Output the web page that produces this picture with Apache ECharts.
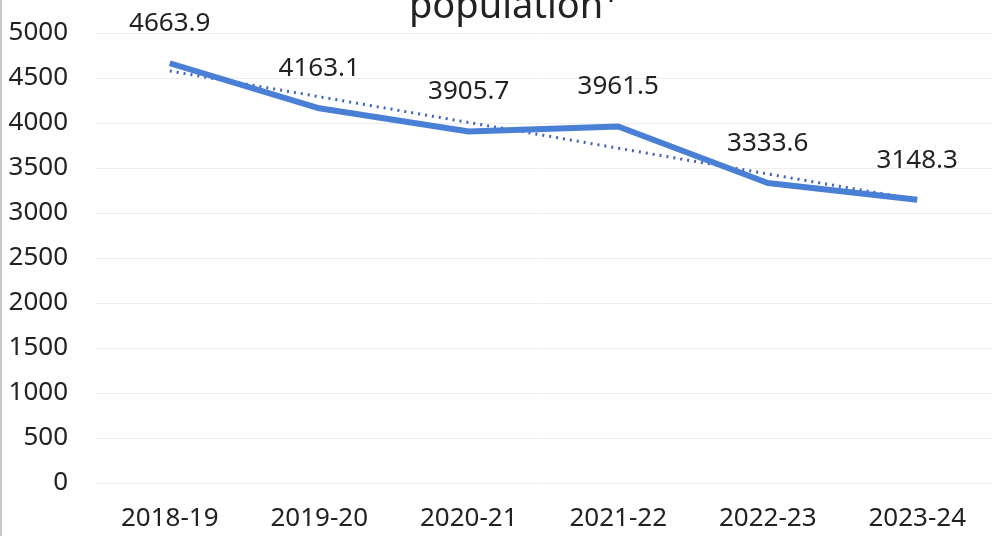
<!DOCTYPE html>
<html>
<head>
<meta charset="utf-8">
<script src="https://cdn.jsdelivr.net/npm/echarts@6/dist/echarts.min.js"></script>
<style>
  html, body { margin: 0; padding: 0; background: #ffffff; }
  #chart { width: 992px; height: 536px; }
</style>
</head>
<body>
<div id="chart"></div>
<script>
// School years on the category axis
const years = ['2018-19', '2019-20', '2020-21', '2021-22', '2022-23', '2023-24'];
// Population per year
const population = [4663.9, 4163.1, 3905.7, 3961.5, 3333.6, 3148.3];
// Linear trend, start and end values
const trendEnds = [4578, 3148];
// Value axis ticks
const yMin = 0, yMax = 5000, yStep = 500;

const trendData = years.map((_, i) =>
  i === 0 ? trendEnds[0] : (i === years.length - 1 ? trendEnds[1] : null));

const font = '"Noto Sans", "Open Sans", sans-serif';
const chart = echarts.init(document.getElementById('chart'));
chart.setOption({
  backgroundColor: '#ffffff',
  animation: false,
  title: {
    text: 'population¹',
    left: 404,
    top: -17,
    textStyle: { fontFamily: font, fontSize: 38, fontWeight: 'normal', color: '#222222' }
  },
  grid: { left: 95, top: 33, width: 905, bottom: 53, containLabel: false },
  xAxis: {
    type: 'category',
    data: years,
    boundaryGap: true,
    axisLine: { show: false },
    axisTick: { show: false },
    axisLabel: { fontFamily: font, fontSize: 26, color: '#222222', margin: 23 }
  },
  yAxis: {
    type: 'value',
    min: yMin,
    max: yMax,
    interval: yStep,
    axisLine: { show: false },
    axisTick: { show: false },
    splitLine: { lineStyle: { color: '#eeeeee', width: 1 } },
    axisLabel: {
      fontFamily: font, fontSize: 26, color: '#222222', margin: 27,
      formatter: v => String(v)
    }
  },
  series: [
    {
      type: 'line',
      data: population,
      symbol: 'circle',
      symbolSize: 1,
      showSymbol: true,
      itemStyle: { opacity: 0 },
      lineStyle: { color: '#4A7FD6', width: 6 },
      label: {
        show: true,
        position: 'top',
        distance: 26,
        fontFamily: font,
        fontSize: 26,
        color: '#222222',
        opacity: 1
      },
      z: 3
    },
    {
      type: 'line',
      data: trendData,
      connectNulls: true,
      symbol: 'none',
      lineStyle: { color: '#3C62C0', width: 3, type: [2, 5] },
      z: 2
    }
  ],
  graphic: [{
    type: 'line',
    shape: { x1: 1, y1: 0, x2: 1, y2: 536 },
    style: { stroke: '#c8c8c8', lineWidth: 2 }
  }]
});
</script>
</body>
</html>
